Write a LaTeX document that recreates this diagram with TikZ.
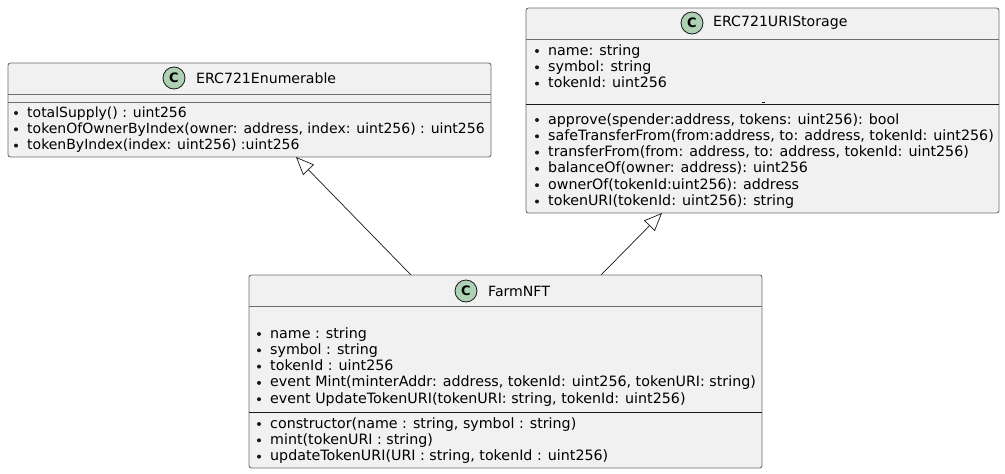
\documentclass[tikz,border=0pt]{standalone}
\usepackage{fontspec}
\setmainfont{DejaVu Sans}
\usetikzlibrary{arrows.meta,calc}
\definecolor{boxfill}{HTML}{F1F1F1}
\definecolor{bordc}{HTML}{181818}
\definecolor{edgec}{HTML}{6E6E6E}
\definecolor{circfill}{HTML}{ADD1B2}
\newcommand\memline[5][]{%
  \fill[bordc] (#3-11,#4-4) circle (2pt);
  \node[mem,#1] (#2) at (#3,#4) {#5};}
\tikzset{
  classbox/.style={draw=edgec, line width=0.9pt, fill=boxfill, rounded corners=2.5pt,
    inner sep=0pt, outer sep=0pt, anchor=north west},
  mem/.style={anchor=base west, inner sep=0pt, font=\fontsize{14.25pt}{16pt}\selectfont, text=black},
  memnarrow/.style={font=\fontsize{14pt}{16pt}\selectfont},
  ctitle/.style={anchor=west, inner sep=0pt, font=\fontsize{14.1pt}{16pt}\selectfont},
  cicon/.style={circle, draw=bordc, line width=0.8pt, fill=circfill, minimum size=22pt,
    inner sep=0pt, font=\fontsize{13pt}{14pt}\selectfont\bfseries},
  compline/.style={draw=edgec, line width=0.9pt},
  sepline/.style={draw=bordc, line width=1pt},
  ext/.style={draw=bordc, line width=0.7pt, -{Triangle[open, length=18pt, width=15pt, line width=0.7pt]}}
}
\begin{document}
\begin{tikzpicture}[x=1pt,y=-1pt]
\fill[white] (0,0) rectangle (1005,474);
\useasboundingbox (0,0) rectangle (1005,474);

% ERC721Enumerable
\node[classbox, minimum width=483pt, minimum height=94pt] (enum) at (8,63) {};
\node[cicon] (enumc) at (174,78) {C};
\node[ctitle] (enumt) at (196,78) {ERC721Enumerable};
\draw[compline] (8,94) -- (491,94);
\draw[compline] (8,102.5) -- (491,102.5);
\memline[memnarrow]{e1}{27}{117}{totalSupply() : uint256}
\memline[memnarrow]{e2}{27}{133.3}{tokenOfOwnerByIndex(owner: address, index: uint256) : uint256}
\memline[memnarrow]{e3}{27}{149.6}{tokenByIndex(index: uint256) :uint256}

% ERC721URIStorage
\node[classbox, minimum width=473pt, minimum height=205pt] (uri) at (526,8) {};
\node[cicon] (uric) at (692,23) {C};
\node[ctitle] (urit) at (713,23) {ERC721URIStorage};
\draw[compline] (526,39) -- (999,39);
\memline{u1}{548}{55}{name: string}
\memline{u2}{548}{71.3}{symbol: string}
\memline{u3}{548}{87.6}{tokenId: uint256}
\draw[sepline] (526,104) -- (999,104);
\draw[bordc, line width=0.8pt] (762,102) -- (765,102);
\memline{u4}{548}{124}{approve(spender:address, tokens: uint256): bool}
\memline{u5}{548}{140.3}{safeTransferFrom(from:address, to: address, tokenId: uint256)}
\memline{u6}{548}{156.6}{transferFrom(from: address, to: address, tokenId: uint256)}
\memline{u7}{548}{172.9}{balanceOf(owner: address): uint256}
\memline{u8}{548}{189.2}{ownerOf(tokenId:uint256): address}
\memline{u9}{548}{205.5}{tokenURI(tokenId: uint256): string}

% FarmNFT
\node[classbox, minimum width=513pt, minimum height=193pt] (farm) at (249,275) {};
\node[cicon] (farmc) at (466,291) {C};
\node[ctitle] (farmt) at (488,291) {FarmNFT};
\draw[compline] (249,306) -- (762,306);
\memline{f1}{270}{338}{name : string}
\memline{f2}{270}{354.3}{symbol : string}
\memline{f3}{270}{370.6}{tokenId : uint256}
\memline{f4}{270}{386.9}{event Mint(minterAddr: address, tokenId: uint256, tokenURI: string)}
\memline{f5}{270}{403.2}{event UpdateTokenURI(tokenURI: string, tokenId: uint256)}
\draw[sepline] (249,412) -- (762,412);
\memline{f6}{270}{428}{constructor(name : string, symbol : string)}
\memline{f7}{270}{444.3}{mint(tokenURI : string)}
\memline{f8}{270}{460.6}{updateTokenURI(URI : string, tokenId : uint256)}

% inheritance
\draw[ext] ($(farm.north west)+(162,0)$) -- ($(enum.south west)+(288,0)$);
\draw[ext] ($(farm.north west)+(352,0)$) -- ($(uri.south west)+(136,0)$);
\end{tikzpicture}
\end{document}
